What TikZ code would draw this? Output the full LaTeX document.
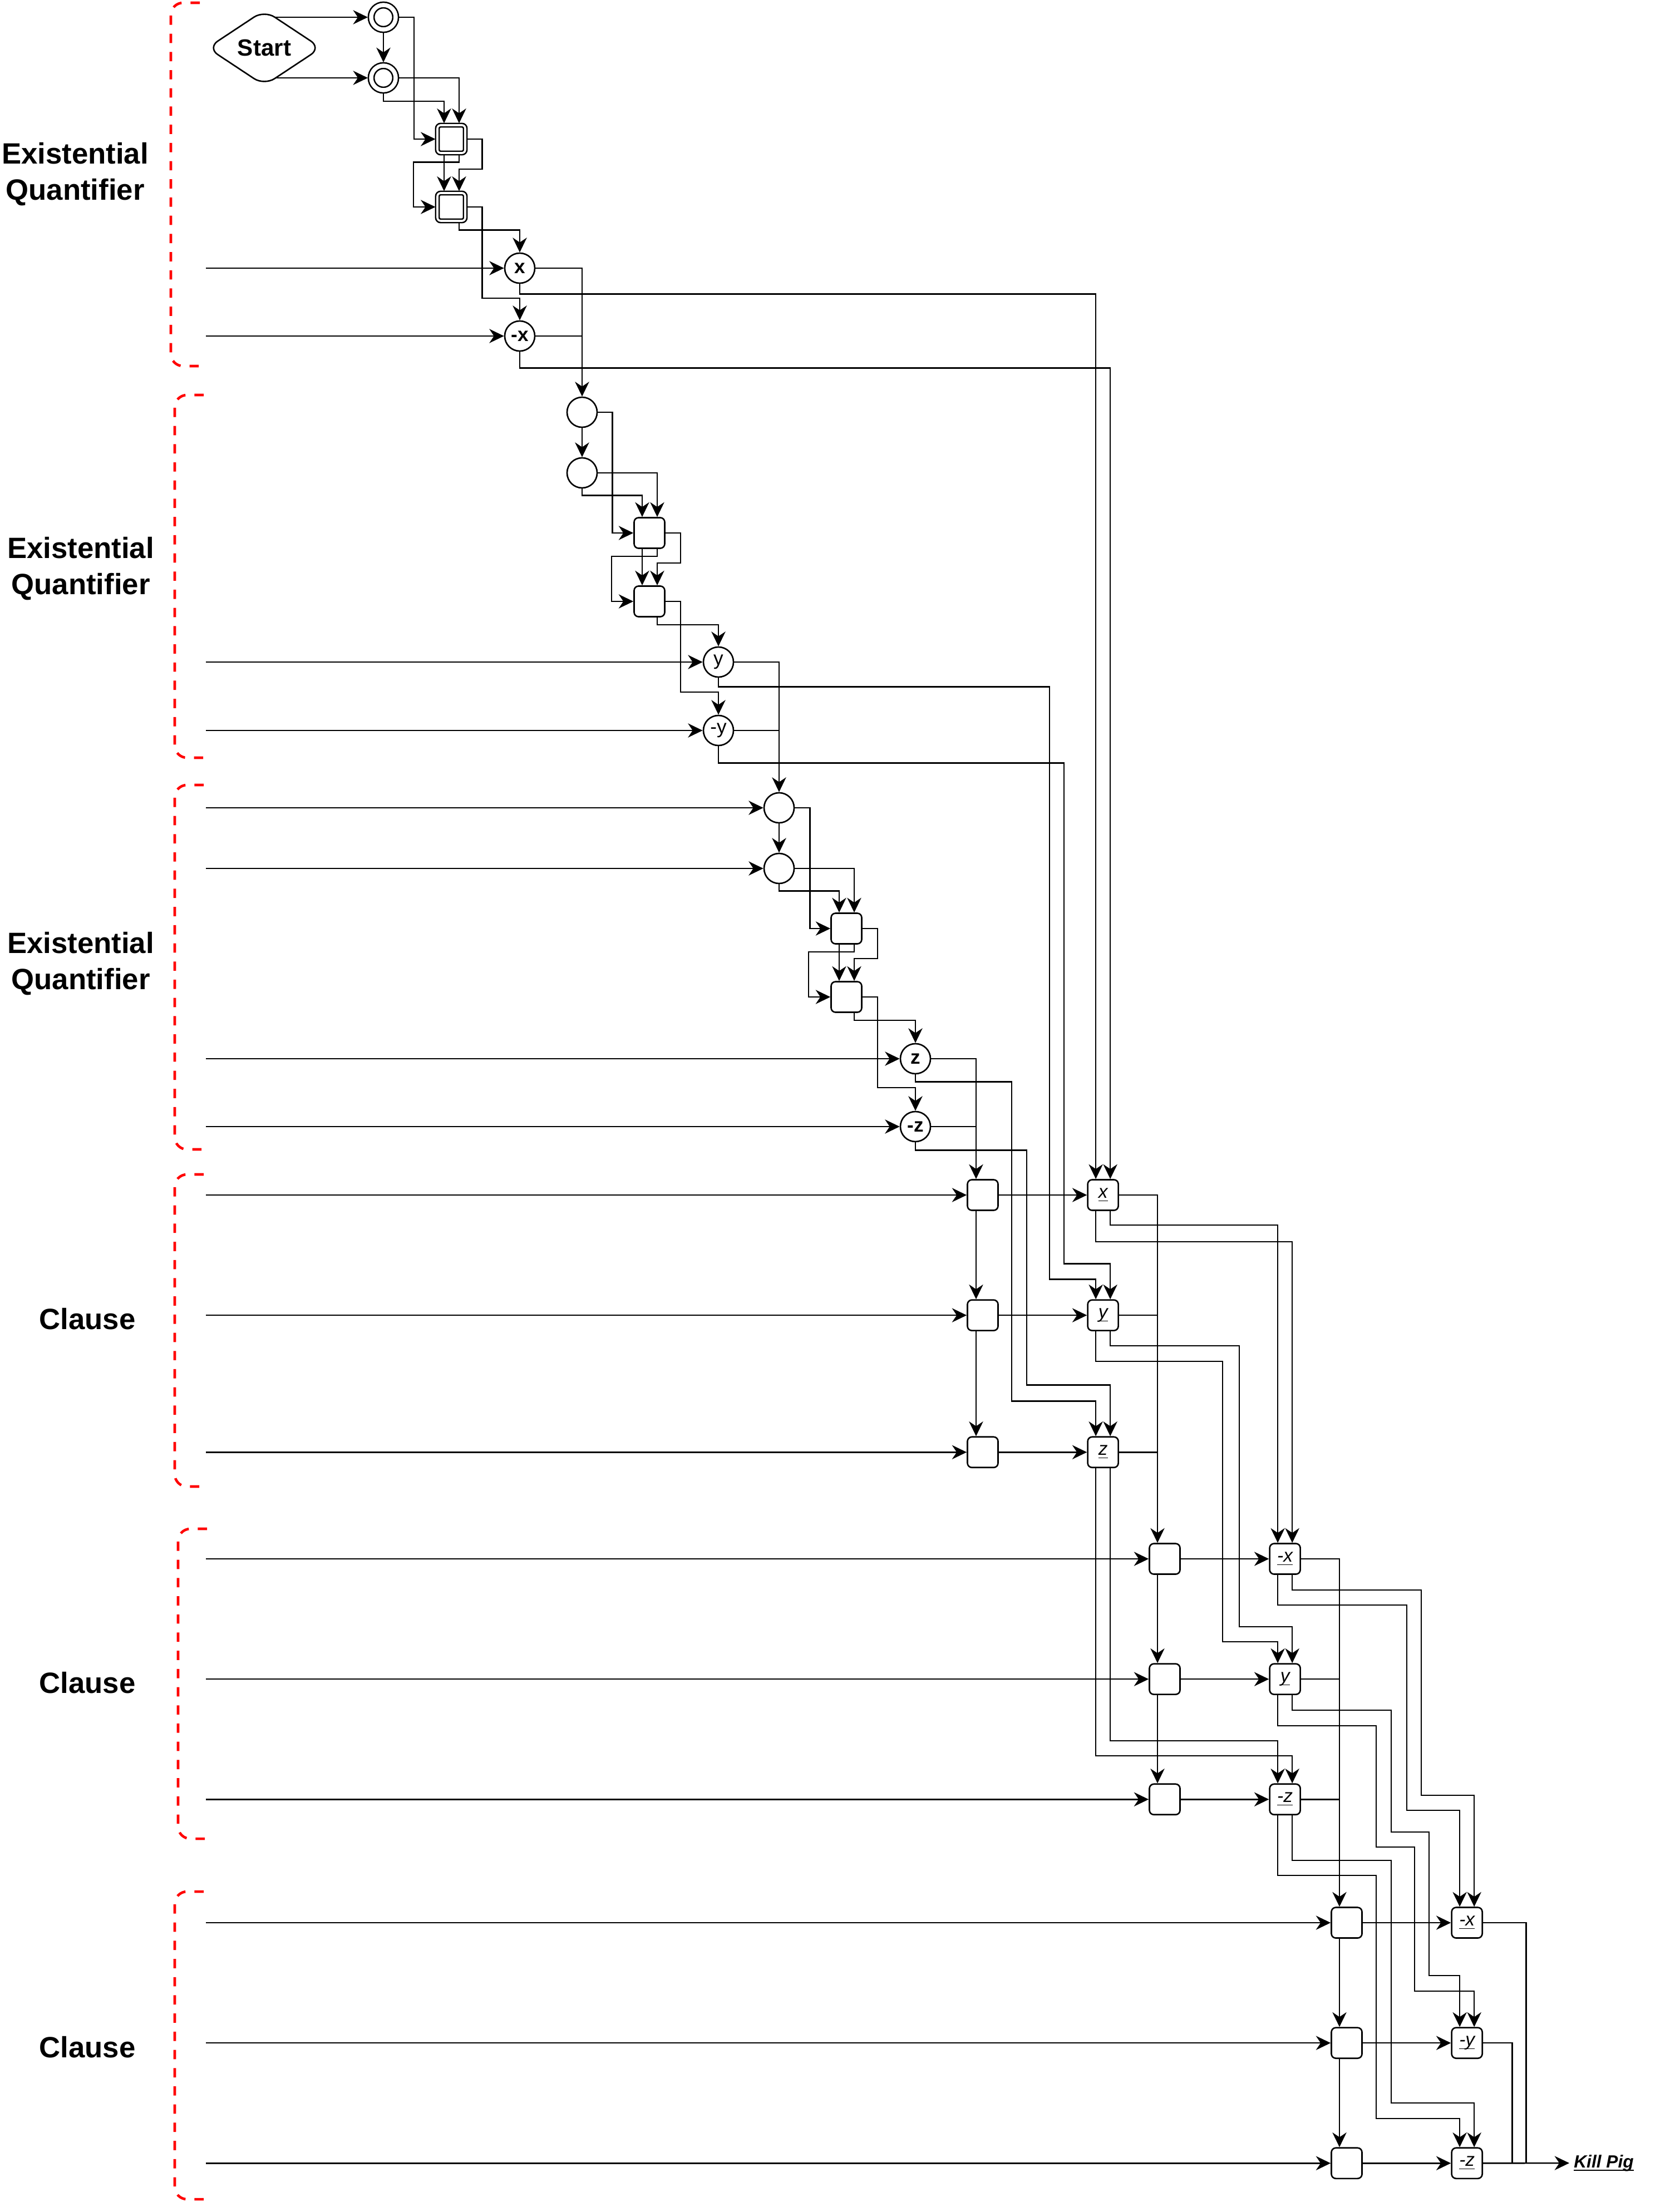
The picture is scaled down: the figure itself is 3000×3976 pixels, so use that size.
\documentclass[tikz,border=0pt]{standalone}
\usepackage{amsmath}
\usepackage{fontspec}
\setmainfont{Liberation Sans}
\usepackage{xcolor}
\usepackage{tikz}
\usetikzlibrary{shapes.geometric, arrows.meta, calc}
\tikzstyle{startnode} = [diamond, rounded corners=0.22cm, minimum width=2.05cm, minimum height=1.36cm, inner sep=0pt, text centered, draw=black, font=\fontsize{12}{14}\selectfont\bfseries]
\tikzstyle{ring} = [circle, draw=black, double, double distance=0.075cm, minimum size=0.44cm, inner sep=0pt, outer sep=0.06cm]
\tikzstyle{dsq} = [rectangle, rounded corners=0.06cm, draw=black, double, double distance=0.036cm, minimum size=0.5cm, inner sep=0pt, outer sep=0.035cm]
\tikzstyle{gate} = [circle, draw=black, minimum size=0.54cm, inner sep=0pt]
\tikzstyle{cell} = [rectangle, rounded corners=0.08cm, draw=black, minimum size=0.55cm, inner sep=0pt]
\tikzstyle{varnode} = [gate, font=\fontsize{10}{11}\selectfont\bfseries]
\tikzstyle{lit} = [cell, font=\fontsize{9.5}{11}\selectfont\itshape]
\tikzstyle{heading} = [align=center, font=\fontsize{15}{18.5}\selectfont\bfseries]
\tikzstyle{qbracket} = [draw=red, line width=1.3pt, dash pattern=on 4.75pt off 4.55pt, rounded corners=0.22cm]
\tikzstyle{arrow} = [->, >={Stealth[length=7.5pt, width=7.2pt, inset=2.4pt]}]
\newcommand{\ulit}[1]{\underline{\smash[b]{#1}}}

\begin{document}
\begin{tikzpicture}[x=0.01cm, y=-0.01cm, line width=0.75pt, node distance=2.16cm]
  \useasboundingbox (0,0) rectangle (3000,3976);

  \node (head1) [heading] at (135,313) {Existential\\Quantifier};
  \node (head2) [heading] at (145,1022) {Existential\\Quantifier};
  \node (head3) [heading] at (145,1732) {Existential\\Quantifier};
  \node (head4) [heading] at (157,2371) {Clause};
  \node (head5) [heading] at (157,3025) {Clause};
  \node (head6) [heading] at (157,3680) {Clause};

  \draw [qbracket] (359,5) -- (307,5) -- (307,658) -- (362,658);
  \draw [qbracket] (366,710) -- (314,710) -- (314,1362) -- (369,1362);
  \draw [qbracket] (366,1411) -- (314,1411) -- (314,2066) -- (369,2066);
  \draw [qbracket] (366,2111) -- (314,2111) -- (314,2672) -- (369,2672);
  \draw [qbracket] (372,2748) -- (320,2748) -- (320,3305) -- (375,3305);
  \draw [qbracket] (366,3400) -- (314,3400) -- (314,3953) -- (369,3953);

  \node (start) [startnode] at (475,86) {Start};
  \node (ring1) [ring] at (689,31) {};
  \node (ring2) [ring] at (689,140) {};
  \node (dsq1) [dsq] at (811,250) {};
  \node (dsq2) [dsq] at (811,372) {};
  \node (lx)  [varnode] at (934,482) {x};
  \node (lnx) [varnode] at (934,604) {-x};

  \node (c1)  [gate] at (1046,741) {};
  \node (c2)  [gate] at (1046,850) {};
  \node (sq1) [cell] at (1167,958) {};
  \node (sq2) [cell] at (1167,1081) {};
  \node (ly)  [gate, font=\fontsize{10}{11}\selectfont] at (1291,1190) {y};
  \node (lny) [gate, font=\fontsize{10}{11}\selectfont] at (1291,1313) {-y};

  \node (c3)  [gate] at (1400,1452) {};
  \node (c4)  [gate] at (1400,1561) {};
  \node (sq3) [cell] at (1521,1669) {};
  \node (sq4) [cell] at (1521,1792) {};
  \node (lz)  [varnode] at (1645,1903) {z};
  \node (lnz) [varnode] at (1645,2025) {-z};

  \node (cla1)  [cell] at (1766,2148) {};
  \node (cla2)  [cell, below of=cla1] {};
  \node (cla3)  [cell, below of=cla2, yshift=-0.3cm] {};
  \node (lita1) [lit, right of=cla1] {\ulit{x}};
  \node (lita2) [lit, right of=cla2] {\ulit{y}};
  \node (lita3) [lit, right of=cla3] {\ulit{z}};

  \node (clb1)  [cell] at (2093,2802) {};
  \node (clb2)  [cell, below of=clb1] {};
  \node (clb3)  [cell, below of=clb2] {};
  \node (litb1) [lit, right of=clb1] {\ulit{-x}};
  \node (litb2) [lit, right of=clb2] {\ulit{y}};
  \node (litb3) [lit, right of=clb3] {\ulit{-z}};

  \node (clc1)  [cell] at (2420,3456) {};
  \node (clc2)  [cell, below of=clc1] {};
  \node (clc3)  [cell, below of=clc2] {};
  \node (litc1) [lit, right of=clc1] {\ulit{-x}};
  \node (litc2) [lit, right of=clc2] {\ulit{-y}};
  \node (litc3) [lit, right of=clc3] {\ulit{-z}};

  \node (kill) [anchor=west, inner sep=2pt, font=\fontsize{9}{11}\selectfont\bfseries\itshape] at (2820,3888) {\ulit{Kill Pig}};

  \coordinate (inedge) at (370,0);
  \coordinate (cola) at ([xshift=-0.12cm]cla1.north);
  \coordinate (colb) at ([xshift=-0.13cm]clb1.north);
  \coordinate (colc) at ([xshift=-0.13cm]clc1.north);

  \draw [arrow] (start.70 |- ring1.west) -- (ring1.west);
  \draw [arrow] (start.290 |- ring2.west) -- (ring2.west);
  \draw [arrow] (ring1) -- (ring2);
  \draw [arrow] (ring1.east) -- ++(27,0) |- (dsq1.west);
  \draw [arrow] (ring2.east) -| ([xshift=0.14cm]dsq1.north);
  \draw [arrow] (ring2.south) -- ++(0,14) -| ([xshift=-0.13cm]dsq1.north);
  \draw [arrow] ([xshift=-0.13cm]dsq1.south) -- ([xshift=-0.13cm]dsq2.north);
  \draw [arrow] ([xshift=0.14cm]dsq1.south) -- ++(0,13) -- ++(-82,0) |- (dsq2.west);
  \draw [arrow] (dsq1.east) -- ++(27,0) -- ++(0,54) -| ([xshift=0.14cm]dsq2.north);
  \draw [arrow] (dsq2.east) -- ++(27,0) -- ++(0,164) -| (lnx.north);
  \draw [arrow] ([xshift=0.14cm]dsq2.south) -- ++(0,13) -| (lx.north);

  \draw [arrow] (lx.east) -| (c1.north);
  \draw (lnx.east) -- (lnx.east -| c1.north);
  \draw [arrow] (c1) -- (c2);
  \draw [arrow] (c1.east) -- ++(26,0) |- (sq1.west);
  \draw [arrow] (c2.east) -| ([xshift=0.14cm]sq1.north);
  \draw [arrow] (c2.south) -- ++(0,12) -| ([xshift=-0.13cm]sq1.north);
  \draw [arrow] ([xshift=-0.13cm]sq1.south) -- ([xshift=-0.13cm]sq2.north);
  \draw [arrow] ([xshift=0.14cm]sq1.south) -- ++(0,13) -- ++(-82,0) |- (sq2.west);
  \draw [arrow] (sq1.east) -- ++(27,0) -- ++(0,54) -| ([xshift=0.14cm]sq2.north);
  \draw [arrow] (sq2.east) -- ++(27,0) -- ++(0,163) -| (lny.north);
  \draw [arrow] ([xshift=0.14cm]sq2.south) -- ++(0,13) -| (ly.north);

  \draw [arrow] (ly.east) -| (c3.north);
  \draw (lny.east) -- (lny.east -| c3.north);
  \draw [arrow] (c3) -- (c4);
  \draw [arrow] (c3.east) -- ++(27,0) |- (sq3.west);
  \draw [arrow] (c4.east) -| ([xshift=0.14cm]sq3.north);
  \draw [arrow] (c4.south) -- ++(0,12) -| ([xshift=-0.13cm]sq3.north);
  \draw [arrow] ([xshift=-0.13cm]sq3.south) -- ([xshift=-0.13cm]sq4.north);
  \draw [arrow] ([xshift=0.14cm]sq3.south) -- ++(0,13) -- ++(-82,0) |- (sq4.west);
  \draw [arrow] (sq3.east) -- ++(27,0) -- ++(0,54) -| ([xshift=0.14cm]sq4.north);
  \draw [arrow] (sq4.east) -- ++(27,0) -- ++(0,163) -| (lnz.north);
  \draw [arrow] ([xshift=0.14cm]sq4.south) -- ++(0,13) -| (lz.north);

  \draw [arrow] (inedge |- lx.west) -- (lx.west);
  \draw [arrow] (inedge |- lnx.west) -- (lnx.west);
  \draw [arrow] (inedge |- ly.west) -- (ly.west);
  \draw [arrow] (inedge |- lny.west) -- (lny.west);
  \draw [arrow] (inedge |- c3.west) -- (c3.west);
  \draw [arrow] (inedge |- c4.west) -- (c4.west);
  \draw [arrow] (inedge |- lz.west) -- (lz.west);
  \draw [arrow] (inedge |- lnz.west) -- (lnz.west);
  \draw [arrow] (inedge |- cla1.west) -- (cla1.west);
  \draw [arrow] (inedge |- cla2.west) -- (cla2.west);
  \draw [arrow] (inedge |- cla3.west) -- (cla3.west);
  \draw [arrow] (inedge |- clb1.west) -- (clb1.west);
  \draw [arrow] (inedge |- clb2.west) -- (clb2.west);
  \draw [arrow] (inedge |- clb3.west) -- (clb3.west);
  \draw [arrow] (inedge |- clc1.west) -- (clc1.west);
  \draw [arrow] (inedge |- clc2.west) -- (clc2.west);
  \draw [arrow] (inedge |- clc3.west) -- (clc3.west);

  \draw [arrow] (lz.east) -| (cola);
  \draw (lnz.east) -- (lnz.east -| cola);
  \draw [arrow] ([xshift=-0.12cm]cla1.south) -- ([xshift=-0.12cm]cla2.north);
  \draw [arrow] ([xshift=-0.12cm]cla2.south) -- ([xshift=-0.12cm]cla3.north);
  \draw [arrow] (cla1) -- (lita1);
  \draw [arrow] (cla2) -- (lita2);
  \draw [arrow] (cla3) -- (lita3);
  \draw [arrow] (lx.south) -- ++(0,18) -| ([xshift=-0.13cm]lita1.north);
  \draw [arrow] (lnx.south) -- ++(0,29) -| ([xshift=0.13cm]lita1.north);
  \draw [arrow] (ly.south) |- ++(595,16) -- ++(0,1065) -| ([xshift=-0.13cm]lita2.north);
  \draw [arrow] (lny.south) |- ++(621,30) -- ++(0,900) -| ([xshift=0.13cm]lita2.north);
  \draw [arrow] (lz.south) |- ++(173,13) -- ++(0,574) -| ([xshift=-0.13cm]lita3.north);
  \draw [arrow] (lnz.south) |- ++(200,14) -- ++(0,422) -| ([xshift=0.13cm]lita3.north);

  \draw [arrow] (lita1.east) -| (colb);
  \draw (lita2.east) -- (lita2.east -| colb);
  \draw (lita3.east) -- (lita3.east -| colb);
  \draw [arrow] ([xshift=-0.13cm]clb1.south) -- ([xshift=-0.13cm]clb2.north);
  \draw [arrow] ([xshift=-0.13cm]clb2.south) -- ([xshift=-0.13cm]clb3.north);
  \draw [arrow] (clb1) -- (litb1);
  \draw [arrow] (clb2) -- (litb2);
  \draw [arrow] (clb3) -- (litb3);
  \draw [arrow] ([xshift=0.13cm]lita1.south) -- ++(0,25) -| ([xshift=-0.13cm]litb1.north);
  \draw [arrow] ([xshift=-0.13cm]lita1.south) -- ++(0,55) -| ([xshift=0.13cm]litb1.north);
  \draw [arrow] ([xshift=0.13cm]lita2.south) |- ++(232,26) -- ++(0,505) -| ([xshift=0.13cm]litb2.north);
  \draw [arrow] ([xshift=-0.13cm]lita2.south) |- ++(228,54) -- ++(0,504) -| ([xshift=-0.13cm]litb2.north);
  \draw [arrow] ([xshift=0.13cm]lita3.south) -- ++(0,490) -| ([xshift=-0.13cm]litb3.north);
  \draw [arrow] ([xshift=-0.13cm]lita3.south) -- ++(0,517) -| ([xshift=0.13cm]litb3.north);

  \draw [arrow] (litb1.east) -| (colc);
  \draw (litb2.east) -- (litb2.east -| colc);
  \draw (litb3.east) -- (litb3.east -| colc);
  \draw [arrow] ([xshift=-0.13cm]clc1.south) -- ([xshift=-0.13cm]clc2.north);
  \draw [arrow] ([xshift=-0.13cm]clc2.south) -- ([xshift=-0.13cm]clc3.north);
  \draw [arrow] (clc1) -- (litc1);
  \draw [arrow] (clc2) -- (litc2);
  \draw [arrow] (clc3) -- (litc3);
  \draw [arrow] ([xshift=0.13cm]litb1.south) |- ++(232,27) -- ++(0,369) -| ([xshift=0.13cm]litc1.north);
  \draw [arrow] ([xshift=-0.13cm]litb1.south) |- ++(232,54) -- ++(0,369) -| ([xshift=-0.13cm]litc1.north);
  \draw [arrow] ([xshift=0.13cm]litb2.south) |- ++(178,27) |- ++(68,219) -- ++(0,258) -| ([xshift=-0.13cm]litc2.north);
  \draw [arrow] ([xshift=-0.13cm]litb2.south) |- ++(177,55) |- ++(69,218) -- ++(0,259) -| ([xshift=0.13cm]litc2.north);
  \draw [arrow] ([xshift=0.13cm]litb3.south) |- ++(178,81) -- ++(0,436) -| ([xshift=0.13cm]litc3.north);
  \draw [arrow] ([xshift=-0.13cm]litb3.south) |- ++(177,108) -- ++(0,437) -| ([xshift=-0.13cm]litc3.north);

  \draw [arrow] (litc3.east) -- (kill.west);
  \draw (litc1.east) -| ($(litc3.east)!0.5!(kill.west)$);
  \draw (litc2.east) -| ($(litc3.east)!0.34!(kill.west)$);
\end{tikzpicture}
\end{document}
